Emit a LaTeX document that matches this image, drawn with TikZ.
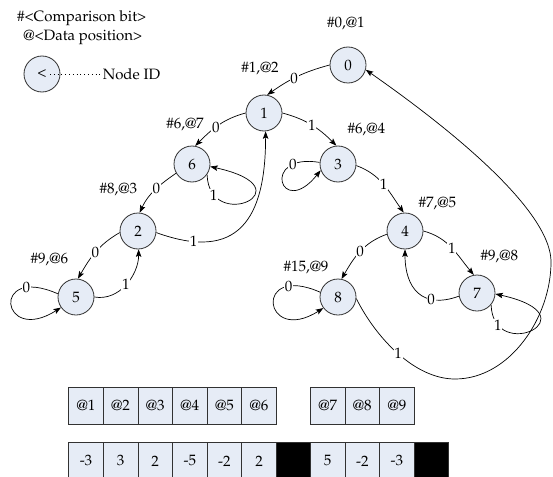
\documentclass[tikz,border=0pt]{standalone}
\usepackage[T1]{fontenc}
\renewcommand{\rmdefault}{ppl}
\usetikzlibrary{arrows.meta}
\definecolor{nodeblue}{RGB}{230,236,246}
\definecolor{linegray}{RGB}{50,50,50}
\begin{document}
\begin{tikzpicture}[x=1pt,y=1pt,
  every node/.style={font=\fontsize{15}{18}\selectfont},
  stnode/.style={circle,draw=linegray,line width=0.8pt,fill=nodeblue,minimum size=36pt,inner sep=0pt},
  tag/.style={inner sep=1pt},
  lab/.style={fill=white,inner sep=0.8pt},
  conn/.style={draw=black,line width=0.7pt,-{Stealth[length=7.5pt,width=5.5pt,inset=1.5pt]}},
  cell/.style={draw=linegray,line width=0.8pt,fill=nodeblue,minimum width=34.6pt,minimum height=37pt,inner sep=0pt,anchor=north west},
  blk/.style={draw=linegray,line width=0.8pt,fill=black,minimum width=34.6pt,minimum height=37pt,inner sep=0pt,anchor=north west}]
\useasboundingbox (0,0) rectangle (553,-476);
\clip (0,0) rectangle (553,-476);

% legend
\node[tag] (lg1) at (81.7,-18.3) {\#\textless Comparison bit\textgreater};
\node[tag] (lg2) at (82.8,-37.3) {@\textless Data position\textgreater};
\node[stnode] (leg) at (42,-74) {\textless};
\node[tag] (legt) at (131.5,-74) {Node ID};
\draw[line width=0.8pt,dash pattern=on 0.8pt off 3pt] ([xshift=8pt]leg.center) -- (legt.west);

% states
\node[stnode] (n0) at (348,-65) {0};
\node[stnode] (n1) at (264,-113) {1};
\node[stnode] (n3) at (338,-164) {3};
\node[stnode] (n6) at (192,-164) {6};
\node[stnode] (n2) at (138,-231) {2};
\node[stnode] (n5) at (76,-297) {5};
\node[stnode] (n4) at (405,-231) {4};
\node[stnode] (n8) at (338,-297) {8};
\node[stnode] (n7) at (477,-293) {7};

% tags
\node[tag] (t0) at (345.8,-24) {\#0,@1};
\node[tag] (t1) at (260,-68.3) {\#1,@2};
\node[tag] (t6) at (185,-125) {\#6,@7};
\node[tag] (t3) at (366.3,-129.3) {\#6,@4};
\node[tag] (t2) at (118.3,-190) {\#8,@3};
\node[tag] (t5) at (49.3,-260) {\#9,@6};
\node[tag] (t4) at (437.3,-203.3) {\#7,@5};
\node[tag] (t7) at (499.3,-256.7) {\#9,@8};
\node[tag] (t8) at (306,-267.3) {\#15,@9};

% edges
\draw[conn] (n0.180) to[out=195,in=35] node[lab,pos=0.55]{0} (n1.80);
\draw[conn] (n1.180) to[out=195,in=45] node[lab,pos=0.55]{0} (n6.80);
\draw[conn] (n1.0) to[out=-15,in=135] node[lab,pos=0.5]{1} (n3.95);
\draw[conn] (n6.-35) .. controls +(2,-60) and +(100,-22) .. (n6.-8) node[lab,pos=0.15]{1};
\draw[conn] (n6.210) to[out=215,in=65] node[lab,pos=0.45]{0} (n2.85);
\draw[conn] (n2.-5) to[out=-20,in=-90,looseness=1.5] node[lab,pos=0.17]{1} (n1.-85);
\draw[conn] (n2.185) to[out=210,in=60] node[lab,pos=0.5]{0} (n5.84);
\draw[conn] (n5.0) to[out=-10,in=-90] node[lab,pos=0.5]{1} (n2.-88);
\draw[conn] (n5.170) .. controls +(-68,30) and +(-60,-38) .. (n5.215) node[lab,pos=0.2]{0};
\draw[conn] (n3.175) .. controls +(-60,10) and +(-40,-50) .. (n3.200) node[lab,pos=0.2]{0};
\draw[conn] (n3.-5) to[out=-20,in=125] node[lab,pos=0.5]{1} (n4.94);
\draw[conn] (n4.190) to[out=200,in=60] node[lab,pos=0.5]{0} (n8.79);
\draw[conn] (n4.0) to[out=-15,in=130] node[lab,pos=0.5]{1} (n7.100);
\draw[conn] (n7.190) to[out=200,in=-90,looseness=1.4] node[lab,pos=0.3]{0} (n4.-90);
\draw[conn] (n7.-40) .. controls +(2,-60) and +(100,-22) .. (n7.-3) node[lab,pos=0.15]{1};
\draw[conn] (n8.165) .. controls +(-68,30) and +(-60,-38) .. (n8.217) node[lab,pos=0.2]{0};
\coordinate (wb) at (455,-379);
\coordinate (wr) at (551,-262);
\draw[conn] (n8.-5) .. controls +(20,-40) and +(-40,0) .. (wb) node[lab,pos=0.5]{1}
  .. controls +(55,0) and +(0,-55) .. (wr)
  .. controls +(0,60) and +(50,-35) .. (n0.-15);

% arrays
\foreach \i/\t in {1/@1,2/@2,3/@3,4/@4,5/@5,6/@6}
  \node[cell] (a\i) at ({68.3+34.6*(\i-1)},-387) {\t};
\foreach \i/\t in {7/@7,8/@8,9/@9}
  \node[cell] (a\i) at ({310+34.6*(\i-7)},-387) {\t};
\foreach \i/\t in {1/-3,2/3,3/2,4/-5,5/-2,6/2}
  \node[cell] (b\i) at ({68.3+34.6*(\i-1)},-442) {\t};
\node[blk] (bk1) at (276,-442) {};
\foreach \i/\t in {7/5,8/-2,9/-3}
  \node[cell] (b\i) at ({310+34.6*(\i-7)},-442) {\t};
\node[blk] (bk2) at (413.8,-442) {};
\end{tikzpicture}
\end{document}
